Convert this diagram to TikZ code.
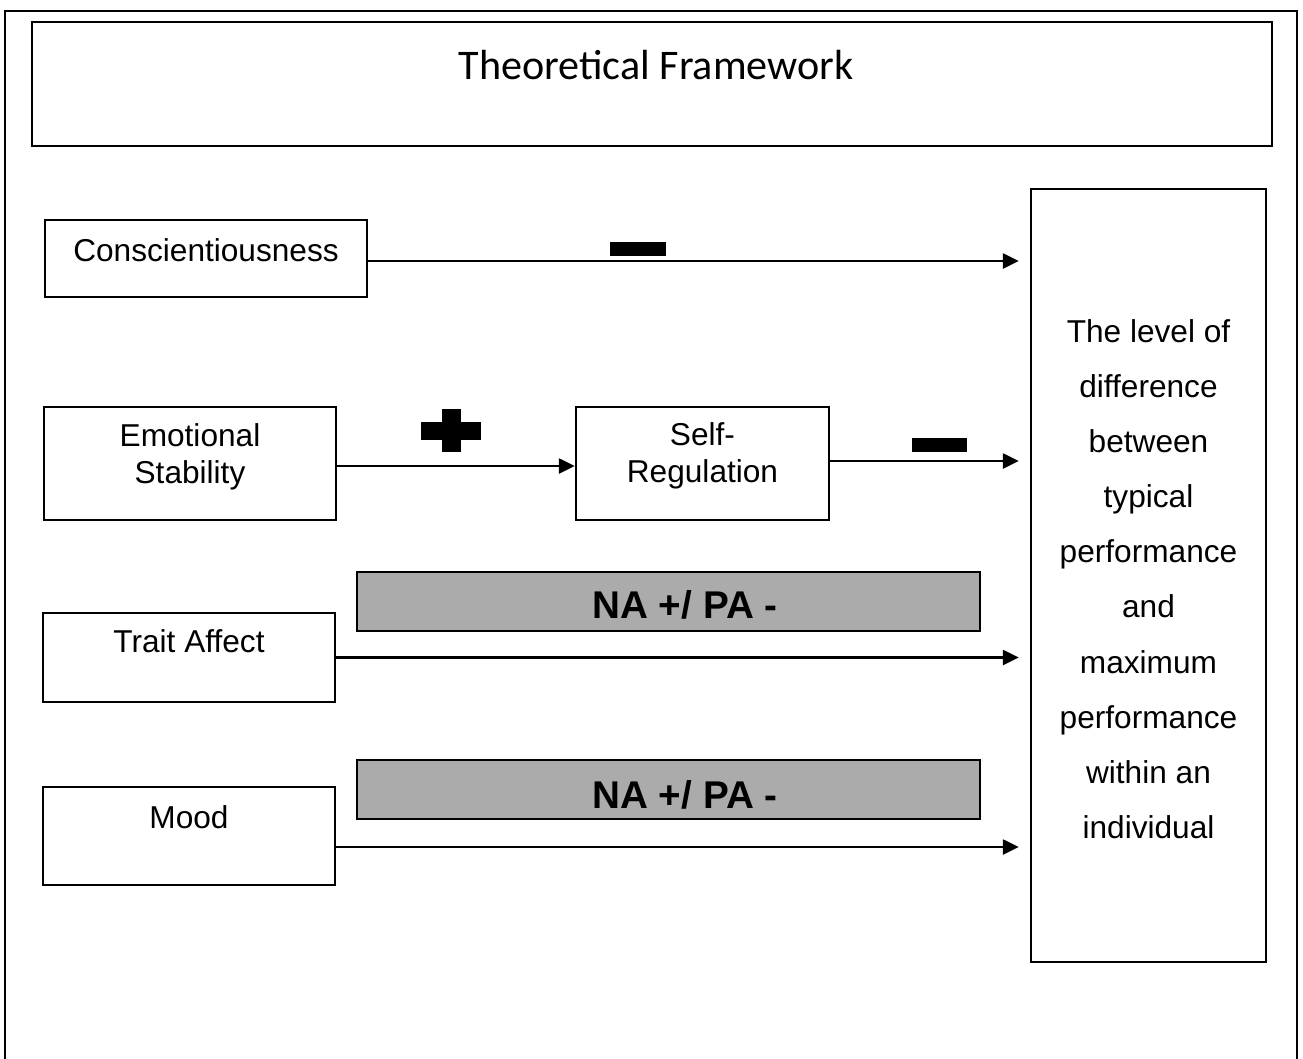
\documentclass[tikz,border=0pt]{standalone}
\usepackage{fontspec}
\setmainfont{Liberation Sans}
\newfontfamily\titlefont{Carlito}
\usetikzlibrary{arrows.meta,positioning}

\tikzset{
  box/.style={rectangle, draw, line width=1.4pt, inner sep=0pt},
  boxtext/.style={align=center, font=\fontsize{18}{21}\selectfont},
  signbar/.style={rectangle, fill=black, inner sep=0pt},
  effect/.style={rectangle, draw, line width=1.3pt, fill=black!33, minimum width=12.46cm, minimum height=1.18cm},
  arr/.style={line width=1.4pt, -{Triangle[length=0.32cm, width=0.3cm]}},
}

\begin{document}
\begin{tikzpicture}[x=0.02cm, y=-0.02cm]
\useasboundingbox (0,0) rectangle (1303,1059);

% outer frame, open at the bottom
\draw [line width=1.4pt] (5,1059) -- (5,11) -- (1297,11) -- (1297,1059);

% title
\draw (652,84) node (title) [box, minimum width=24.8cm, minimum height=2.48cm] {};
\draw (656,65) node (titleT) {\titlefont\fontsize{24}{28}\selectfont Theoretical Framework};

% outcome
\draw (1148.5,575.5) node (gap) [box, minimum width=4.7cm, minimum height=15.46cm] {};
\draw (1148.5,579) node (gapT) [align=center, font=\fontsize{18}{31.4}\selectfont]
  {The level of\\difference\\between\\typical\\performance\\and\\maximum\\performance\\within an\\individual};

% predictors
\draw (206,258.5) node (cons) [box, minimum width=6.44cm, minimum height=1.54cm] {};
\draw (206,250) node (consT) [boxtext] {Conscientiousness};

\draw (190,463.5) node (emo) [box, minimum width=5.84cm, minimum height=2.26cm] {};
\draw (190,456.5) node (emoT) [boxtext] {Emotional\\Stability};

\draw (702.5,463.5) node (selfreg) [box, minimum width=5.06cm, minimum height=2.26cm] {};
\draw (702.5,456) node (selfregT) [boxtext] {Self-\\Regulation};

\draw (189,657.5) node (trait) [box, minimum width=5.84cm, minimum height=1.78cm] {};
\draw (189,641) node (traitT) [boxtext] {Trait Affect};

\draw (189,836) node (mood) [box, minimum width=5.84cm, minimum height=1.96cm] {};
\draw (189,817) node (moodT) [boxtext] {Mood};

% NA / PA bars
\draw (668.5,601.5) node (naA) [effect] {};
\draw (685,605) node (naAT) {\fontsize{22}{26}\selectfont\bfseries NA +/ PA -};
\draw (668.5,789.5) node (naB) [effect] {};
\draw (685,795) node (naBT) {\fontsize{22}{26}\selectfont\bfseries NA +/ PA -};

% arrows
\draw [arr, shorten >=0.22cm] ([yshift=-0.05cm]cons.east) -- ([yshift=-0.05cm]gap.west |- cons.east);
\draw [arr] ([yshift=-0.05cm]emo.east) -- ([yshift=-0.05cm]selfreg.west);
\draw [arr, shorten >=0.22cm] ([yshift=0.05cm]selfreg.east) -- ([yshift=0.05cm]gap.west |- selfreg.east);
\draw [arr, shorten >=0.22cm] (trait.east) -- (gap.west |- trait.east);
\draw [arr, shorten >=0.22cm] ([yshift=-0.22cm]mood.east) -- ([yshift=-0.22cm]gap.west |- mood.east);

% signs
\draw (638,248.5) node (minA) [signbar, minimum width=1.12cm, minimum height=0.28cm] {};
\draw (939.5,445) node (minB) [signbar, minimum width=1.1cm, minimum height=0.28cm] {};
\draw (451,431) node (plusH) [signbar, minimum width=1.2cm, minimum height=0.36cm] {};
\draw (451.5,430.5) node (plusV) [signbar, minimum width=0.38cm, minimum height=0.86cm] {};

\end{tikzpicture}
\end{document}
